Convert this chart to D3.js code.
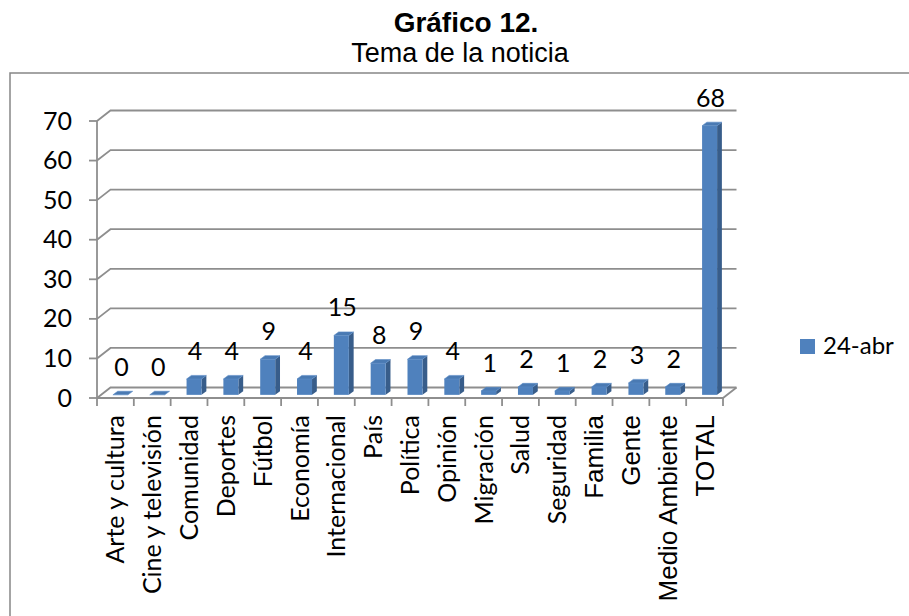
<!DOCTYPE html>
<html>
<head>
<meta charset="utf-8">
<script src="https://cdn.jsdelivr.net/npm/d3@7"></script>
<style>
  html, body { margin: 0; padding: 0; background: #fff; }
  svg { display: block; }
  .calib { font-family: Lato, "Open Sans", sans-serif; fill: #000; }
  .arial { font-family: "Liberation Sans", Arial, sans-serif; fill: #000; }
</style>
</head>
<body>
<svg id="chart" width="909" height="616"></svg>
<script>
// data
var categories = ["Arte y cultura", "Cine y televisión", "Comunidad", "Deportes", "Fútbol",
  "Economía", "Internacional", "País", "Política", "Opinión", "Migración", "Salud",
  "Seguridad", "Familia", "Gente", "Medio Ambiente", "TOTAL"];
var values24abr = [0, 0, 4, 4, 9, 4, 15, 8, 9, 4, 1, 2, 1, 2, 3, 2, 68];
var seriesName = "24-abr";
var yTicks = [0, 10, 20, 30, 40, 50, 60, 70];
var titleText = "Gráfico 12.";
var subtitleText = "Tema de la noticia";

// some category cells use another font in the source sheet
var arialCats = ["Fútbol", "Familia", "Gente", "Medio Ambiente", "TOTAL"];

var svg = d3.select("#chart");

var x = d3.scaleBand().domain(categories).range([97, 723]).padding(0);
var y = d3.scaleLinear().domain([0, 70]).range([398, 121]);

var depth = {dx: 13.5, dy: -10.5};   // 3d wall depth
var barW = 15;
var barDepth = {dx: 4.8, dy: -3.6};
var gridColor = "#8e8e8e";

// outer frame (cropped on the right and bottom)
svg.append("rect")
  .attr("x", 10).attr("y", 73)
  .attr("width", 920).attr("height", 560)
  .attr("fill", "none")
  .attr("stroke", "#868686")
  .attr("stroke-width", 1.5);

// titles
svg.append("text").attr("class", "arial")
  .attr("x", 466).attr("y", 32)
  .attr("text-anchor", "middle")
  .style("font-size", "28px").style("font-weight", "bold")
  .text(titleText);

svg.append("text").attr("class", "arial")
  .attr("x", 460).attr("y", 62)
  .attr("text-anchor", "middle")
  .style("font-size", "27px")
  .text(subtitleText);

var walls = svg.append("g").attr("fill", "none").attr("stroke", gridColor).attr("stroke-width", 1.8);

var x0 = x.range()[0], x1 = x.range()[1];

// back wall gridlines + side wall diagonals
yTicks.forEach(function(t) {
  var yy = y(t);
  walls.append("path")
    .attr("d", "M" + x0 + "," + yy + "L" + (x0 + depth.dx) + "," + (yy + depth.dy) +
      "L" + (x1 + depth.dx) + "," + (yy + depth.dy));
  // tick
  walls.append("line")
    .attr("x1", x0 - 8).attr("x2", x0)
    .attr("y1", yy).attr("y2", yy);
});

// y axis line
walls.append("line")
  .attr("x1", x0).attr("x2", x0)
  .attr("y1", y(0)).attr("y2", y(70));

// floor front edge + right diagonal
walls.append("path")
  .attr("d", "M" + x0 + "," + y(0) + "L" + x1 + "," + y(0) +
    "L" + (x1 + depth.dx) + "," + (y(0) + depth.dy));

// category ticks
var bounds = categories.map(function(c) { return x(c); }).concat([x1]);
walls.selectAll(".ctick").data(bounds).enter().append("line")
  .attr("x1", function(d) { return d; }).attr("x2", function(d) { return d; })
  .attr("y1", y(0)).attr("y2", y(0) + 8);

// y tick labels
svg.selectAll(".ylab").data(yTicks).enter().append("text")
  .attr("class", "calib")
  .attr("x", 72)
  .attr("y", function(d) { return y(d) + 8.5; })
  .attr("text-anchor", "end")
  .style("font-size", "25px")
  .text(function(d) { return d; });

// bars
var data = categories.map(function(c, i) { return {cat: c, v: values24abr[i]}; });

function barFront(d) {
  var cx = x(d.cat) + x.bandwidth() / 2 + 5;
  var bottom = y(0) + 0.3 * depth.dy;
  var top = bottom - (y(0) - y(d.v));
  return {l: cx - barW / 2, r: cx + barW / 2, b: bottom, t: top, cx: cx};
}

function pts(arr) {
  return arr.map(function(p) { return p[0] + "," + p[1]; }).join(" ");
}

var bars = svg.selectAll(".bar").data(data).enter().append("g").attr("class", "bar");

bars.append("polygon")
  .attr("fill", "#385d8a")
  .attr("points", function(d) {
    var f = barFront(d);
    return pts([[f.r, f.b], [f.r, f.t], [f.r + barDepth.dx, f.t + barDepth.dy], [f.r + barDepth.dx, f.b + barDepth.dy]]);
  });

bars.append("rect")
  .attr("fill", "#4f81bd")
  .attr("x", function(d) { return barFront(d).l; })
  .attr("y", function(d) { return barFront(d).t; })
  .attr("width", barW)
  .attr("height", function(d) { var f = barFront(d); return f.b - f.t; });

bars.append("polygon")
  .attr("fill", "#4a7ab3")
  .attr("stroke", "#5b8cc6").attr("stroke-width", 0.6)
  .attr("points", function(d) {
    var f = barFront(d);
    return pts([[f.l, f.t], [f.r, f.t], [f.r + barDepth.dx, f.t + barDepth.dy], [f.l + barDepth.dx, f.t + barDepth.dy]]);
  });

// data labels
svg.selectAll(".dlab").data(data).enter().append("text")
  .attr("class", "calib")
  .attr("x", function(d) { return barFront(d).cx + 1; })
  .attr("y", function(d) { return barFront(d).t - 19; })
  .attr("text-anchor", "middle")
  .style("font-size", "25px")
  .text(function(d) { return d.v; });

// category labels
svg.selectAll(".clab").data(categories).enter().append("text")
  .attr("class", function(d) { return arialCats.indexOf(d) >= 0 ? "arial" : "calib"; })
  .attr("transform", function(d) {
    return "translate(" + (x(d) + x.bandwidth() / 2 + 9) + ",415) rotate(-90)";
  })
  .attr("text-anchor", "end")
  .style("font-size", function(d) { return arialCats.indexOf(d) >= 0 ? "26px" : "25px"; })
  .text(function(d) { return d; });

// legend
var legend = svg.append("g").attr("transform", "translate(800,339)");
legend.append("rect").attr("width", 15).attr("height", 15).attr("fill", "#4f81bd");
legend.append("text").attr("class", "calib")
  .attr("x", 23).attr("y", 15)
  .style("font-size", "24px")
  .text(seriesName);
</script>
</body>
</html>
